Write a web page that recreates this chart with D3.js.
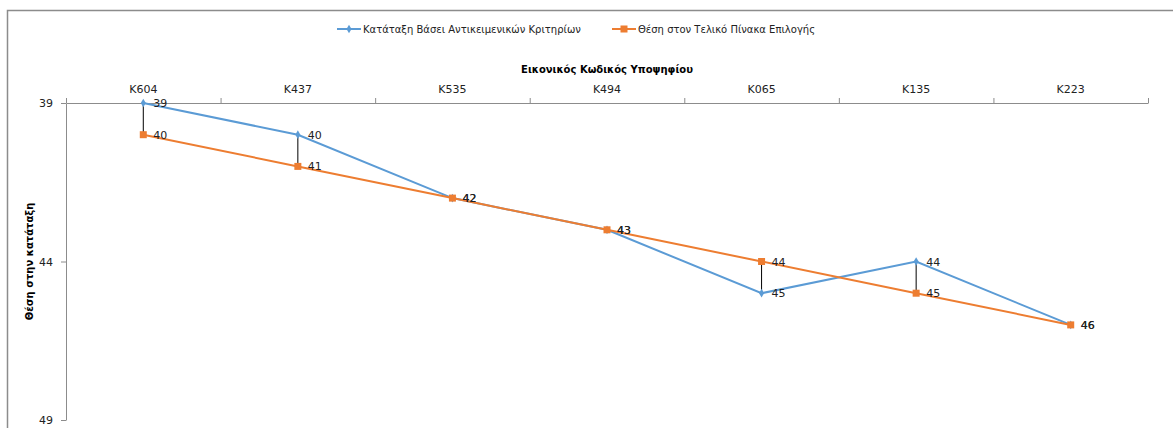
<!DOCTYPE html>
<html><head><meta charset="utf-8">
<script src="https://cdn.jsdelivr.net/npm/d3@7"></script>
<style>body{margin:0;background:#fff}svg{display:block}text{font-family:"DejaVu Sans",sans-serif}</style>
</head><body><svg id="c" width="1173" height="428"></svg>
<script>
const categories = ["K604","K437","K535","K494","K065","K135","K223"];
const objectiveRank = [39,40,42,43,45,44,46];
const finalRank = [40,41,42,43,44,45,46];
const yTicks = [39,44,49];
const seriesNames = ["Κατάταξη  Βάσει Αντικειμενικών Κριτηρίων","Θέση στον Τελικό Πίνακα Επιλογής"];
const xTitle = "Εικονικός Κωδικός Υποψηφίου";
const yTitle = "Θέση στην κατάταξη";
const colors = ["#5b9bd5","#ed7d31"];

(function(){
const svg = d3.select("#c");
const pL = 66, pR = 1148, pT = 103, pB = 420;
const x = d3.scaleBand().domain(categories).range([pL,pR]);
const y = d3.scaleLinear().domain([39,49]).range([pT,pB]);
const cx = c => x(c) + x.bandwidth()/2;

// frame
svg.append("path").attr("d",`M7.5,428 V10.5 H1173`).attr("fill","none").attr("stroke","#8c8c8c").attr("stroke-width",1.5);

// x axis at top
const xAx = svg.append("g").attr("transform",`translate(0,${pT})`)
  .call(d3.axisTop(x).tickSize(0).tickPadding(10));
xAx.select(".domain").attr("stroke","#8c8c8c");
xAx.selectAll("text").attr("font-size",11).attr("fill","#222");
const bounds = categories.map(c=>x(c)).concat([pR]);
xAx.selectAll(".bnd").data(bounds).join("line").attr("class","bnd")
  .attr("x1",d=>d+0.5).attr("x2",d=>d+0.5).attr("y1",0).attr("y2",-5).attr("stroke","#8c8c8c");

// y axis
const yAx = svg.append("g").attr("transform",`translate(${pL},0)`)
  .call(d3.axisLeft(y).tickValues(yTicks).tickSize(5).tickPadding(8).tickSizeOuter(0));
yAx.select(".domain").attr("stroke","#8c8c8c");
yAx.selectAll(".tick line").attr("stroke","#8c8c8c");
yAx.selectAll("text").attr("font-size",11).attr("fill","#222");

// titles
svg.append("text").attr("x",(pL+pR)/2).attr("y",73).attr("text-anchor","middle")
  .attr("font-size",10).attr("font-weight","bold").text(xTitle);
svg.append("text").attr("transform",`translate(33,${y(44)}) rotate(-90)`).attr("text-anchor","middle")
  .attr("font-size",10).attr("font-weight","bold").text(yTitle);

// high-low lines
categories.forEach((c,i)=>{
  if (objectiveRank[i]!==finalRank[i]) {
    svg.append("line").attr("x1",cx(c)).attr("x2",cx(c))
      .attr("y1",y(objectiveRank[i])).attr("y2",y(finalRank[i])).attr("stroke","#000").attr("stroke-width",1);
  }
});

const line = d3.line().x((d,i)=>cx(categories[i])).y(d=>y(d));
svg.append("path").datum(objectiveRank).attr("d",line).attr("fill","none").attr("stroke",colors[0]).attr("stroke-width",2);
svg.append("path").datum(finalRank).attr("d",line).attr("fill","none").attr("stroke",colors[1]).attr("stroke-width",2);

const diamond = d3.symbol().type(d3.symbolDiamond).size(22);
svg.selectAll(".m0").data(objectiveRank).join("path").attr("class","m0")
  .attr("transform",(d,i)=>`translate(${cx(categories[i])},${y(d)})`).attr("d",diamond).attr("fill",colors[0]);
svg.selectAll(".m1").data(finalRank).join("rect").attr("class","m1")
  .attr("x",(d,i)=>cx(categories[i])-3.5).attr("y",d=>y(d)-3.5).attr("width",7).attr("height",7).attr("fill",colors[1]);

// labels
[objectiveRank, finalRank].forEach(arr=>{
  svg.selectAll(null).data(arr).join("text")
    .attr("x",(d,i)=>cx(categories[i])+10).attr("y",d=>y(d)+4)
    .attr("font-size",11).attr("fill","#222").text(d=>d);
});

// legend
const lg = [[337,seriesNames[0],0],[612,seriesNames[1],1]];
lg.forEach(([lx,name,k])=>{
  svg.append("line").attr("x1",lx).attr("x2",lx+24).attr("y1",29).attr("y2",29).attr("stroke",colors[k]).attr("stroke-width",2);
  if (k===0) svg.append("path").attr("transform",`translate(${lx+12},29)`).attr("d",diamond).attr("fill",colors[0]);
  else svg.append("rect").attr("x",lx+8.5).attr("y",25.5).attr("width",7).attr("height",7).attr("fill",colors[1]);
  svg.append("text").attr("x",lx+26).attr("y",33).attr("font-size",10).attr("fill","#222").text(name);
});
})();
</script></body></html>
